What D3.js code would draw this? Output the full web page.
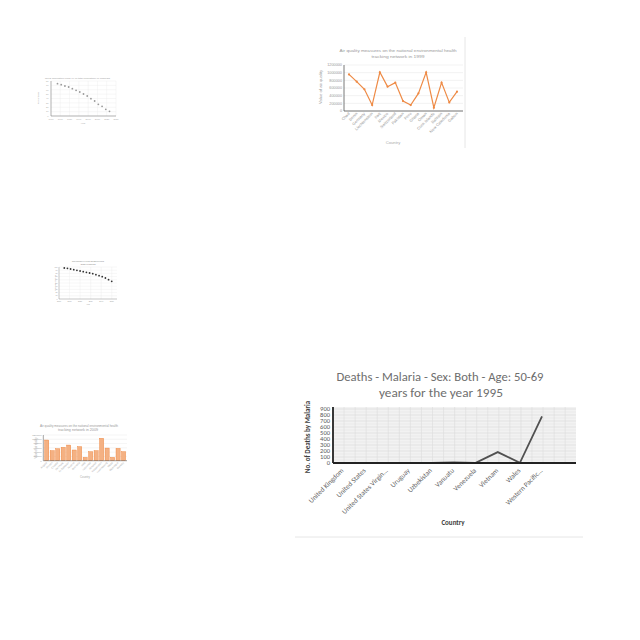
<!DOCTYPE html>
<html><head><meta charset="utf-8">
<script src="https://cdn.jsdelivr.net/npm/d3@7"></script>
<style>html,body{margin:0;padding:0;background:#fff;} svg{display:block}</style>
</head><body>
<svg id="c" width="640" height="640"></svg>
<script>
// ---- Main chart: malaria deaths ----
const malariaTitle = ["Deaths - Malaria - Sex: Both - Age: 50-69", "years for the year 1995"];
const malariaCountries = ["United Kingdom","United States","United States Virgin...","Uruguay","Uzbekistan","Vanuatu","Venezuela","Vietnam","Wales","Western Pacific..."];
const malariaDeaths = [0, 0, 0, 0, 2, 8, 3, 182, 2, 778];
const malariaTicks = [0,100,200,300,400,500,600,700,800,900];

// ---- Top right: air quality 1999 (line) ----
const air1999Title = ["Air quality measures on the national environmental health", "tracking network in 1999"];
const air1999Countries = ["Chad","Benin","Germany","Liechtenstein","Iraq","Mexico","Switzerland","Pakistan","Peru","Ghana","Oman","Cook Islands","Bahrain","New Caledonia","Gabon"];
const air1999Values = [955000,765000,565000,155000,1010000,635000,740000,260000,155000,460000,1010000,85000,740000,225000,505000];
const air1999Ticks = [0,200000,400000,600000,800000,1000000,1200000];

// ---- Bottom left: air quality 2009 (bars) ----
const air2009Title = ["Air quality measures on the national environmental health", "tracking network in 2009"];
const air2009Countries = ["Angola","Bhutan","Croatia","Denmark","El Salvador","Finland","Grenada","Haiti","Indonesia","Jamaica","Kazakhstan","Luxembourg","Malta","Nicaragua","Norway"];
const air2009Values = [965000,470000,560000,625000,730000,500000,655000,155000,420000,470000,1045000,590000,155000,575000,420000];
const air2009Ticks = [0,200000,400000,600000,800000,1000000,1200000];

// ---- Top left: rural population scatter ----
const ruralTitle = "Rural population living (% of total population) in Malaysia";
const ruralYears = [1967,1971,1975,1979,1983,1987,1991,1995,1999,2003,2007,2011,2015,2019,2023];
const ruralValues = [73.8,71.5,68.6,66.3,62.4,58.7,54.9,50.3,45.7,39.5,34.3,26.7,22.2,15.3,10.7];
const ruralYTicks = [0,10,20,30,40,50,60,70,80];
const ruralXTicks = [1960,1970,1980,1990,2000,2010,2020,2030];

// ---- Middle left: projection scatter ----
const projTitle = ["Rural population (% of total) with SDG projections", "(2030) in Malaysia"];
const projYears = [2005,2008,2011,2014,2017,2020,2023,2026,2029,2032,2035,2038,2041,2044,2047,2050];
const projValues = [96.9,95.8,93.8,91.6,89.7,87.5,85.3,83.4,81.3,79.1,75.9,72.8,69.7,65.6,60.3,55.3];
const projYTicks = [0,10,20,30,40,50,60,70,80,90,100];
const projXTicks = [2000,2010,2020,2030,2040,2050];

const svg = d3.select("#c");
svg.append("rect").attr("width",640).attr("height",640).attr("fill","#fff");

function txt(g, x, y, s, o) {
  o = o || {};
  const t = g.append("text").attr("x", x).attr("y", y).text(s)
    .attr("font-family", o.family || "Liberation Sans, Arial, sans-serif")
    .attr("font-size", o.size || 4)
    .attr("fill", o.fill || "#888")
    .attr("text-anchor", o.anchor || "middle");
  if (o.weight) t.attr("font-weight", o.weight);
  if (o.dy) t.attr("dy", o.dy);
  if (o.len) t.attr("textLength", o.len).attr("lengthAdjust", "spacingAndGlyphs");
  if (o.rot !== undefined) t.attr("transform", `rotate(${o.rot},${x},${y})`);
  return t;
}

// ================= MAIN CHART =================
(function(){
  const g = svg.append("g");
  const L = 333, R = 576, T = 407, B = 463;
  const x = d3.scalePoint().domain(malariaCountries).range([343, 542]);
  const y = d3.scaleLinear().domain([0, 900]).range([B, 409]);
  const font = "Carlito, Lato, sans-serif";

  // chart frame bottom line
  g.append("line").attr("x1",295).attr("x2",583).attr("y1",537).attr("y2",537).attr("stroke","#e6e6e6");

  // title
  txt(g, 440, 381, malariaTitle[0], {family: font, size: 11.5, fill: "#6e6e6e", len: 207});
  txt(g, 441, 397, malariaTitle[1], {family: font, size: 11.5, fill: "#6e6e6e", len: 124});

  // plot background + grid
  g.append("rect").attr("x", L).attr("y", T).attr("width", R - L).attr("height", B - T).attr("fill", "#f2f2f2");
  const hg = d3.range(0, 901, 50);
  g.selectAll(".hg").data(hg).enter().append("line")
    .attr("x1", L).attr("x2", R).attr("y1", d => y(d)).attr("y2", d => y(d))
    .attr("stroke", d => d % 100 === 0 ? "#d6d6d6" : "#e4e4e4").attr("stroke-width", 0.6);
  const step = x.step();
  const vg = d3.range(L + step/2, R, step/2);
  g.selectAll(".vg").data(vg).enter().append("line")
    .attr("x1", d => d).attr("x2", d => d).attr("y1", T).attr("y2", B)
    .attr("stroke", "#dcdcdc").attr("stroke-width", 0.6);

  // line
  g.append("path").datum(malariaDeaths)
    .attr("d", d3.line().x((d,i) => x(malariaCountries[i])).y(d => y(d)))
    .attr("fill", "none").attr("stroke", "#505050").attr("stroke-width", 1.8);

  // axes
  g.append("line").attr("x1", L).attr("x2", L).attr("y1", T).attr("y2", B).attr("stroke", "#222").attr("stroke-width", 1.8);
  g.append("line").attr("x1", L).attr("x2", R).attr("y1", B).attr("y2", B).attr("stroke", "#222").attr("stroke-width", 1.8);

  malariaTicks.forEach(v => txt(g, 330, y(v), v, {family: font, size: 4.9, fill: "#595959", anchor: "end", dy: "0.35em", len: String(v).length * 3.3}));
  malariaCountries.forEach(c => txt(g, x(c) + 1, 471, c, {family: font, size: 7, fill: "#646464", anchor: "end", rot: -45}));

  txt(g, 309.5, 437, "No. of Deaths by Malaria", {family: font, size: 7, fill: "#404040", weight: "bold", rot: -90});
  txt(g, 453, 525, "Country", {family: font, size: 7, fill: "#404040", weight: "bold"});
})();

// ================= TOP RIGHT (line) =================
(function(){
  const g = svg.append("g");
  const L = 344, R = 463, T = 65, B = 111;
  const x = d3.scalePoint().domain(air1999Countries).range([349, 457]);
  const y = d3.scaleLinear().domain([0, 1200000]).range([B, T]);
  g.append("line").attr("x1",465).attr("x2",465).attr("y1",37).attr("y2",148).attr("stroke","#e6e6e6");
  txt(g, 398, 52, air1999Title[0], {size: 4.2, fill: "#999", len: 117});
  txt(g, 398, 57.5, air1999Title[1], {size: 4.2, fill: "#999", len: 53});
  air1999Ticks.forEach(v => {
    g.append("line").attr("x1", L).attr("x2", R).attr("y1", y(v)).attr("y2", y(v)).attr("stroke", "#e4e4e4").attr("stroke-width", 0.5);
    txt(g, 342, y(v), v, {size: 3.8, fill: "#999", anchor: "end", dy: "0.35em"});
  });
  g.append("path").datum(air1999Values)
    .attr("d", d3.line().x((d,i) => x(air1999Countries[i])).y(d => y(d)))
    .attr("fill", "none").attr("stroke", "#ee8a45").attr("stroke-width", 1.2);
  g.selectAll(".pt").data(air1999Values).enter().append("circle")
    .attr("cx", (d,i) => x(air1999Countries[i])).attr("cy", d => y(d)).attr("r", 1.1).attr("fill", "#ee8a45");
  g.append("line").attr("x1", L).attr("x2", L).attr("y1", T).attr("y2", B).attr("stroke", "#555").attr("stroke-width", 0.8);
  g.append("line").attr("x1", L).attr("x2", R).attr("y1", B).attr("y2", B).attr("stroke", "#555").attr("stroke-width", 0.8);
  air1999Countries.forEach(c => txt(g, x(c) + 1, 114, c, {size: 4, fill: "#999", anchor: "end", rot: -45}));
  txt(g, 321.5, 87, "Value of air quality", {size: 4.2, fill: "#999", rot: -90});
  txt(g, 393, 144, "Country", {size: 4.2, fill: "#aaa"});
})();

// ================= BOTTOM LEFT (bars) =================
(function(){
  const g = svg.append("g");
  const L = 43.3, R = 127, T = 435, B = 460.7;
  const x = d3.scaleBand().domain(air2009Countries).range([L, R]).padding(0.25);
  const y = d3.scaleLinear().domain([0, 1200000]).range([B, T]);
  txt(g, 79, 426.5, air2009Title[0], {size: 2.8, fill: "#999", len: 78});
  txt(g, 78, 430.5, air2009Title[1], {size: 2.8, fill: "#999", len: 40});
  air2009Ticks.forEach(v => {
    g.append("line").attr("x1", L).attr("x2", R).attr("y1", y(v)).attr("y2", y(v)).attr("stroke", "#e6e6e6").attr("stroke-width", 0.4);
    txt(g, 41.5, y(v), v, {size: 2.4, fill: "#999", anchor: "end", dy: "0.35em"});
  });
  g.selectAll(".bar").data(air2009Values).enter().append("rect")
    .attr("x", (d,i) => x(air2009Countries[i])).attr("width", x.bandwidth())
    .attr("y", d => y(d)).attr("height", d => B - y(d))
    .attr("fill", "#f4b183").attr("stroke", "#ed7d31").attr("stroke-width", 0.4);
  g.append("line").attr("x1", L).attr("x2", L).attr("y1", T).attr("y2", B).attr("stroke", "#666").attr("stroke-width", 0.6);
  g.append("line").attr("x1", L).attr("x2", R).attr("y1", B).attr("y2", B).attr("stroke", "#666").attr("stroke-width", 0.6);
  air2009Countries.forEach(c => txt(g, x(c) + x.bandwidth()/2 + 0.5, 463, c, {size: 2.6, fill: "#aaa", anchor: "end", rot: -45}));
  txt(g, 37, 448, "Value of air quality", {size: 2.6, fill: "#aaa", rot: -90});
  txt(g, 85, 478, "Country", {size: 2.8, fill: "#aaa"});
})();

// ================= TOP LEFT (scatter) =================
(function(){
  const g = svg.append("g");
  const L = 51, R = 116, T = 81, B = 116;
  const x = d3.scaleLinear().domain([1960, 2030]).range([L, R]);
  const y = d3.scaleLinear().domain([0, 80]).range([B, T]);
  txt(g, 77.5, 78.5, ruralTitle, {size: 2.4, fill: "#999", len: 65});
  ruralYTicks.forEach(v => {
    g.append("line").attr("x1", L).attr("x2", R).attr("y1", y(v)).attr("y2", y(v)).attr("stroke", "#ececec").attr("stroke-width", 0.4);
    txt(g, 48.5, y(v), v, {size: 2.3, fill: "#aaa", anchor: "end", dy: "0.35em"});
  });
  ruralXTicks.forEach(v => {
    g.append("line").attr("x1", x(v)).attr("x2", x(v)).attr("y1", T).attr("y2", B).attr("stroke", "#ececec").attr("stroke-width", 0.4);
    txt(g, x(v), 119.5, v, {size: 2.3, fill: "#aaa"});
  });
  g.append("line").attr("x1", L).attr("x2", L).attr("y1", T).attr("y2", B).attr("stroke", "#888").attr("stroke-width", 0.6);
  g.append("line").attr("x1", L).attr("x2", R).attr("y1", B).attr("y2", B).attr("stroke", "#888").attr("stroke-width", 0.6);
  g.selectAll(".pt").data(ruralValues).enter().append("circle")
    .attr("cx", (d,i) => x(ruralYears[i])).attr("cy", d => y(d)).attr("r", 0.9).attr("fill", "#9a9a9a");
  txt(g, 39, 98, "Percentage", {size: 2.4, fill: "#aaa", rot: -90});
  txt(g, 83, 123.5, "Year", {size: 2.4, fill: "#aaa"});
})();

// ================= MIDDLE LEFT (scatter) =================
(function(){
  const g = svg.append("g");
  const L = 59, R = 117, T = 267, B = 299;
  const x = d3.scaleLinear().domain([2000, 2055]).range([L, R]);
  const y = d3.scaleLinear().domain([0, 100]).range([B, T]);
  txt(g, 88, 261.5, projTitle[0], {size: 2.2, fill: "#777", len: 32});
  txt(g, 88, 264.5, projTitle[1], {size: 2.2, fill: "#777", len: 15});
  projYTicks.forEach(v => {
    g.append("line").attr("x1", L).attr("x2", R).attr("y1", y(v)).attr("y2", y(v)).attr("stroke", "#ececec").attr("stroke-width", 0.4);
    txt(g, 57.5, y(v), v, {size: 1.8, fill: "#999", anchor: "end", dy: "0.35em"});
  });
  projXTicks.forEach(v => {
    g.append("line").attr("x1", x(v)).attr("x2", x(v)).attr("y1", T).attr("y2", B).attr("stroke", "#ececec").attr("stroke-width", 0.4);
    txt(g, x(v), 301.5, v, {size: 1.8, fill: "#999"});
  });
  g.append("line").attr("x1", L).attr("x2", L).attr("y1", T).attr("y2", B).attr("stroke", "#999").attr("stroke-width", 0.5);
  g.append("line").attr("x1", L).attr("x2", R).attr("y1", B).attr("y2", B).attr("stroke", "#999").attr("stroke-width", 0.5);
  g.selectAll(".pt").data(projValues).enter().append("circle")
    .attr("cx", (d,i) => x(projYears[i])).attr("cy", d => y(d)).attr("r", 0.9).attr("fill", "#333");
  txt(g, 55.5, 283, "Rural population (%)", {size: 1.8, fill: "#999", rot: -90});
  txt(g, 88, 304.5, "Year", {size: 1.8, fill: "#999"});
})();
</script>
</body></html>
